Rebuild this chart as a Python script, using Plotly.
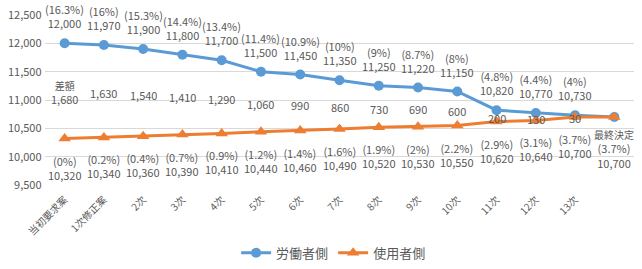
import plotly.graph_objects as go

categories = ["当初要求案", "1次修正案", "2次", "3次", "4次", "5次", "6次", "7次",
              "8次", "9次", "10次", "11次", "12次", "13次", " "]
labor = [12000, 11970, 11900, 11800, 11700, 11500, 11450, 11350, 11250, 11220,
         11150, 10820, 10770, 10730, 10700]
labor_pct = ["(16.3%)", "(16%)", "(15.3%)", "(14.4%)", "(13.4%)", "(11.4%)", "(10.9%)",
             "(10%)", "(9%)", "(8.7%)", "(8%)", "(4.8%)", "(4.4%)", "(4%)", ""]
employer = [10320, 10340, 10360, 10390, 10410, 10440, 10460, 10490, 10520, 10530,
            10550, 10620, 10640, 10700, 10700]
employer_pct = ["(0%)", "(0.2%)", "(0.4%)", "(0.7%)", "(0.9%)", "(1.2%)", "(1.4%)",
                "(1.6%)", "(1.9%)", "(2%)", "(2.2%)", "(2.9%)", "(3.1%)", "(3.7%)", "(3.7%)"]
diffs = [1680, 1630, 1540, 1410, 1290, 1060, 990, 860, 730, 690, 600, 200, 130, 30]
final_label = "最終決定"
diff_title = "差額"

BLUE = "#5B9BD5"
ORANGE = "#ED7D31"
TXT = "#595959"
FONT = "Noto Sans CJK JP"

fig = go.Figure()
fig.add_trace(go.Scatter(x=categories, y=labor, name="労働者側", mode="lines+markers",
                         line=dict(color=BLUE, width=3),
                         marker=dict(symbol="circle", size=10, color=BLUE)))
fig.add_trace(go.Scatter(x=categories, y=employer, name="使用者側", mode="lines+markers",
                         line=dict(color=ORANGE, width=3),
                         marker=dict(symbol="triangle-up", size=11, color=ORANGE)))

anns = []
for i, (c, v, p) in enumerate(zip(categories, labor, labor_pct)):
    if not p:
        continue
    anns.append(dict(x=c, y=v, text=f"{p}<br>{v:,}", showarrow=False, yanchor="bottom",
                     yshift=10, font=dict(size=11, color=TXT, family=FONT)))
for i, (c, v, p) in enumerate(zip(categories, employer, employer_pct)):
    if i == len(categories) - 1:
        txt = f"<span style='font-size:10px'>{final_label}</span><br>{p}<br>{v:,}"
        shift = -8
    else:
        txt = f"{p}<br>{v:,}"
        shift = -12
    anns.append(dict(x=c, y=v, text=txt, showarrow=False, yanchor="top",
                     yshift=shift, font=dict(size=11, color=TXT, family=FONT)))
for i, d in enumerate(diffs):
    mid = (labor[i] + employer[i]) / 2
    txt = f"<span style='font-size:10px'>{diff_title}</span><br>{d:,}" if i == 0 else f"{d:,}"
    anns.append(dict(x=categories[i], y=mid, text=txt, showarrow=False, yanchor="middle",
                     yshift=-2, font=dict(size=11, color=TXT, family=FONT)))

fig.update_layout(
    width=642, height=269,
    margin=dict(l=45, r=8, t=15, b=84, autoexpand=False),
    paper_bgcolor="white", plot_bgcolor="white",
    font=dict(family=FONT, color=TXT, size=11),
    annotations=anns,
    showlegend=True,
    legend=dict(orientation="h", x=0.49, xanchor="center",
                yref="container", y=0.06, yanchor="middle",
                font=dict(size=13, color=TXT, family=FONT), itemwidth=30),
    xaxis=dict(type="category", range=[-0.5, 14.5], tickangle=-45, showgrid=False,
               showline=False, ticks="", tickfont=dict(size=10, color=TXT),
               ticklabelstandoff=6),
    yaxis=dict(range=[9500, 12500], dtick=500, tickformat=",", showgrid=True,
               gridcolor="#D9D9D9", gridwidth=1, zeroline=False, showline=False,
               tickfont=dict(size=11, color=TXT), ticksuffix=" "),
)

fig.write_html("out.html")
